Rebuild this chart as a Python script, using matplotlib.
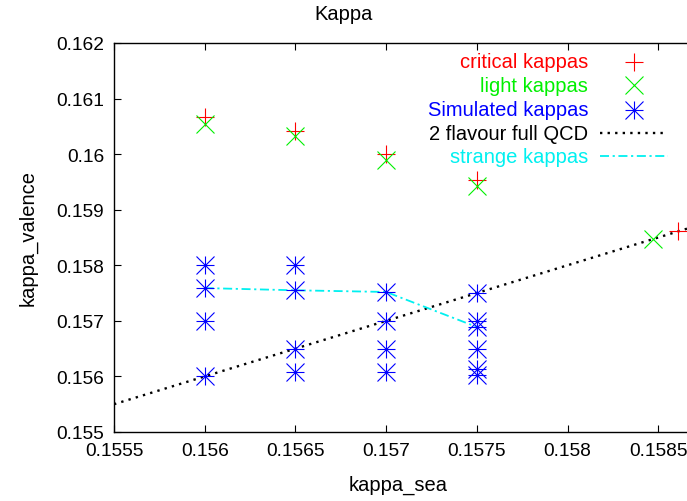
import matplotlib
matplotlib.use("Agg")
import matplotlib.pyplot as plt

# ---- data ----
critical_x = [0.156, 0.1565, 0.157, 0.1575, 0.15861]
critical_y = [0.16067, 0.16042, 0.16000, 0.15954, 0.15861]

light_x = [0.156, 0.1565, 0.157, 0.1575, 0.15847]
light_y = [0.16055, 0.16033, 0.15990, 0.15942, 0.15847]

sim_x = [0.156, 0.156, 0.156, 0.156,
         0.1565, 0.1565, 0.1565, 0.1565,
         0.157, 0.157, 0.157, 0.157,
         0.1575, 0.1575, 0.1575, 0.1575, 0.1575, 0.1575]
sim_y = [0.1580, 0.15759, 0.1570, 0.1560,
         0.1580, 0.15755, 0.1565, 0.15608,
         0.15752, 0.1570, 0.1565, 0.15608,
         0.1575, 0.1570, 0.15689, 0.1565, 0.15613, 0.15602]

qcd_x = [0.1555, 0.15866]
qcd_y = [0.1555, 0.15866]

strange_x = [0.156, 0.1565, 0.157, 0.1575]
strange_y = [0.15759, 0.15755, 0.15752, 0.15689]

xticks = [0.1555, 0.156, 0.1565, 0.157, 0.1575, 0.158, 0.1585]
xtick_labels = ["0.1555", "0.156", "0.1565", "0.157", "0.1575", "0.158", "0.1585"]
yticks = [0.155, 0.156, 0.157, 0.158, 0.159, 0.160, 0.161, 0.162]
ytick_labels = ["0.155", "0.156", "0.157", "0.158", "0.159", "0.16", "0.161", "0.162"]

labels = ["critical kappas", "light kappas", "Simulated kappas",
          "2 flavour full QCD", "strange kappas"]

# ---- style ----
plt.rcParams['font.family'] = ['Liberation Sans', 'DejaVu Sans']
FS = 14.5
TFS = 13.8
RED, GREEN, BLUE, CYAN = '#ff0000', '#00f000', '#0000ff', '#00f0f0'
MS = 13.3
XMS = 13.3
MEW = 0.8

W, H = 687, 502
fig = plt.figure(figsize=(W / 100, H / 100), dpi=100)
L, R, T, B = 114, 687, 44, 433
ax = fig.add_axes([L / W, 1 - B / H, (R - L) / W, (B - T) / H])

xmax = 0.1555 + (R - L) / 181.4 * 0.001
ax.set_xlim(0.1555, xmax)
ax.set_ylim(0.155, 0.162)

dotted = (0, (1.0, 2.2))
dashdot = (0, (5, 2, 1.2, 2))

ax.plot(qcd_x, qcd_y, color='black', lw=1.7, linestyle=dotted, zorder=1)
ax.plot(strange_x, strange_y, color=CYAN, lw=1.3, linestyle=dashdot, zorder=2)
ax.plot(sim_x, sim_y, linestyle='none', marker='+', ms=MS, mew=MEW,
        color=BLUE, zorder=3)
ax.plot(sim_x, sim_y, linestyle='none', marker='x', ms=XMS, mew=MEW,
        color=BLUE, zorder=3)
ax.plot(critical_x, critical_y, linestyle='none', marker='+', ms=MS, mew=MEW,
        color=RED, zorder=4)
ax.plot(light_x, light_y, linestyle='none', marker='x', ms=XMS, mew=MEW,
        color=GREEN, zorder=4)

ax.set_xticks(xticks)
ax.set_xticklabels(xtick_labels)
ax.set_yticks(yticks)
ax.set_yticklabels(ytick_labels)
ax.tick_params(direction='in', length=5, width=0.8, top=True, right=False,
               labelsize=TFS, pad=7)
for s in ['left', 'bottom', 'top']:
    ax.spines[s].set_linewidth(1.0)
ax.spines['right'].set_visible(False)

# ---- manual gnuplot-style legend ----
rows_px = [62.7, 86.0, 110.7, 134.3, 157.3]
text_right = (588 - L) / (R - L)
samp_l = (600 - L) / (R - L)
samp_r = (668 - L) / (R - L)
samp_c = (634 - L) / (R - L)
colors = [RED, GREEN, BLUE, 'black', CYAN]
for i, (lab, c) in enumerate(zip(labels, colors)):
    yy = (B - rows_px[i]) / (B - T)
    ax.text(text_right, yy, lab, color=c, ha='right', va='center',
            fontsize=FS, transform=ax.transAxes)
    if i == 0:
        ax.plot([samp_c], [yy], marker='+', ms=MS, mew=MEW, color=RED,
                transform=ax.transAxes, clip_on=False)
    elif i == 1:
        ax.plot([samp_c], [yy], marker='x', ms=XMS, mew=MEW, color=GREEN,
                transform=ax.transAxes, clip_on=False)
    elif i == 2:
        ax.plot([samp_c], [yy], marker='+', ms=MS, mew=MEW, color=BLUE,
                transform=ax.transAxes, clip_on=False)
        ax.plot([samp_c], [yy], marker='x', ms=XMS, mew=MEW, color=BLUE,
                transform=ax.transAxes, clip_on=False)
    elif i == 3:
        ax.plot([samp_l, samp_r], [yy, yy], color='black', lw=1.7,
                linestyle=dotted, transform=ax.transAxes)
    else:
        ax.plot([samp_l, samp_r], [yy, yy], color=CYAN, lw=1.3,
                linestyle=dashdot, transform=ax.transAxes)

fig.text(344 / W, 1 - 15 / H, "Kappa", ha='center', va='center', fontsize=FS)
fig.text(398 / W, 1 - 485 / H, "kappa_sea", ha='center', va='center', fontsize=FS)
fig.text(28 / W, 1 - 238 / H, "kappa_valence", ha='center', va='center',
         rotation=90, fontsize=FS)

fig.savefig("out.png", dpi=100)
